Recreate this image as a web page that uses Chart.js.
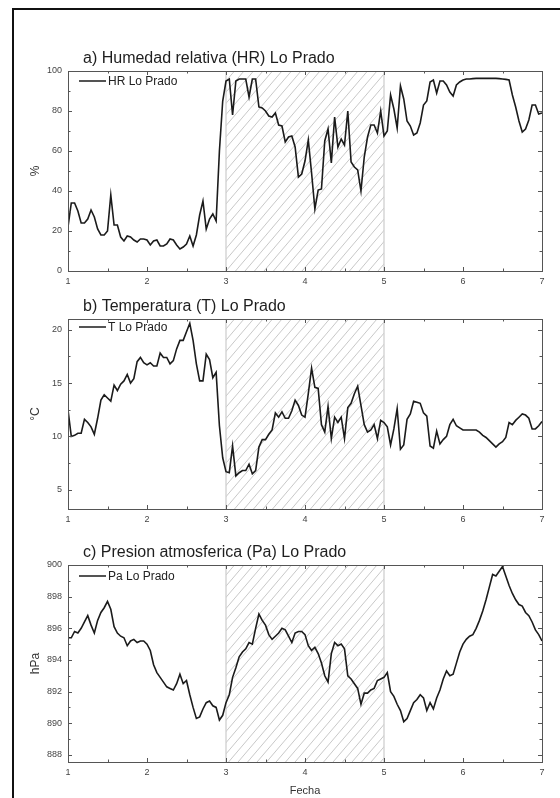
<!DOCTYPE html>
<html>
<head>
<meta charset="utf-8">
<script src="https://cdn.jsdelivr.net/npm/chart.js@4/dist/chart.umd.min.js"></script>
<style>
html,body{margin:0;padding:0;background:#fff;}
body{width:560px;height:798px;position:relative;overflow:hidden;font-family:"Liberation Sans",Arial,sans-serif;}
#frame{position:absolute;left:12px;top:8px;width:700px;height:900px;border-left:2px solid #111;border-top:2px solid #111;box-sizing:border-box;}
.pan{position:absolute;left:0;width:560px;}
canvas{display:block;}
</style>
</head>
<body>
<div id="frame"></div>
<div class="pan" style="top:0px"><canvas id="cHR" width="560" height="290"></canvas></div>
<div class="pan" style="top:290px"><canvas id="cT" width="560" height="250"></canvas></div>
<div class="pan" style="top:540px"><canvas id="cPa" width="560" height="258"></canvas></div>
<script>
// ---- data (hourly values, day 1 .. day 7) ----
const dayTicks = [1, 2, 3, 4, 5, 6, 7];
const eventStart = 3;
const eventEnd = 5;

const hrLoPrado = [
  22, 34, 34, 30, 24, 24, 26, 30.5, 27, 21, 18, 18, 20, 38, 23, 23, 17, 15, 17.5, 17, 15.5, 14.5, 16, 16,
  15.5, 13, 15, 15.5, 12.5, 12.5, 13.5, 16, 15.5, 13, 11, 12, 13.5, 17.5, 12.5, 18, 28, 35, 21, 26, 28.5, 25, 60, 85,
  95, 96, 78, 95, 96, 96, 96, 87, 96, 96, 82, 81.5, 80, 77.5, 77, 79, 73, 72.5, 64.5, 67, 67.5, 62, 47, 48.5,
  55, 65.5, 49, 31, 40.5, 41, 65, 71, 54, 77, 62, 66, 63, 80, 54.5, 52, 50.5, 40, 57, 67, 73, 73, 69, 80,
  67.5, 70, 88, 81, 71.5, 92.5, 86, 75, 72.5, 68, 69, 74, 83, 85, 94.5, 95.5, 89, 95, 95, 93, 89.5, 87.5, 93, 94.5,
  95.5, 96, 96, 96.2, 96.3, 96.3, 96.3, 96.3, 96.3, 96.3, 96.3, 96.2, 96, 95.8, 95.5, 88, 82, 75, 69.5, 71, 75.5, 83, 83, 78.5,
  79
];
const tLoPrado = [
  12.5, 10.0, 10.1, 10.3, 10.3, 11.6, 11.3, 10.9, 10.2, 11.7, 13.4, 13.9, 13.6, 13.3, 14.8, 14.3, 14.9, 15.2, 15.8, 15.0, 15.4, 17.0, 17.4, 16.9,
  16.7, 16.9, 16.6, 16.6, 17.8, 17.4, 17.4, 16.8, 17.1, 18.2, 19.0, 19.0, 19.8, 20.6, 19.0, 16.8, 15.2, 15.2, 17.7, 17.2, 15.5, 16.0, 11.0, 8.0,
  6.7, 6.6, 9.1, 6.3, 6.6, 6.8, 6.8, 7.4, 6.5, 6.8, 9.0, 9.7, 9.7, 10.2, 10.6, 12.2, 11.8, 12.3, 11.7, 11.7, 12.4, 13.4, 12.9, 12.0,
  11.8, 14.0, 16.4, 14.6, 14.5, 11.1, 10.4, 12.8, 9.8, 11.8, 11.3, 11.8, 9.8, 12.7, 13.1, 14.0, 14.7, 12.9, 11.1, 10.4, 10.6, 11.1, 9.8, 11.5,
  11.3, 10.9, 9.2, 10.7, 12.6, 8.8, 9.2, 11.6, 12.1, 13.3, 13.2, 13.1, 12.2, 11.9, 9.1, 8.9, 10.5, 9.3, 9.7, 10.0, 11.1, 11.6, 11.0, 10.8,
  10.6, 10.6, 10.6, 10.6, 10.6, 10.4, 10.1, 9.9, 9.6, 9.3, 9.0, 9.3, 9.5, 9.9, 11.3, 11.1, 11.5, 11.8, 12.1, 12.0, 11.7, 10.7, 10.7, 11.0,
  11.4
];
const paLoPrado = [
  895.4, 895.4, 895.8, 895.7, 896.0, 896.4, 896.8, 896.2, 895.7, 896.5, 897.0, 897.3, 897.7, 897.2, 896.1, 895.7, 895.5, 895.4, 894.9, 895.2, 895.3, 895.1, 895.2, 895.2,
  895.0, 894.6, 893.7, 893.2, 892.9, 892.6, 892.3, 892.2, 892.1, 892.5, 893.1, 892.5, 892.7, 891.8, 891.0, 890.3, 890.4, 890.9, 891.3, 891.4, 891.1, 891.0, 890.2, 890.5,
  891.3, 891.8, 892.9, 893.5, 894.2, 894.5, 894.7, 895.1, 895.0, 896.0, 896.9, 896.5, 896.2, 895.6, 895.3, 895.5, 895.7, 896.0, 895.9, 895.5, 895.1, 895.7, 895.8, 895.8,
  895.6, 894.9, 894.6, 894.8, 894.4, 893.8, 893.0, 892.6, 894.4, 895.1, 894.9, 895.0, 894.7, 893.0, 892.8, 892.5, 892.2, 891.2, 891.9, 891.9, 892.1, 892.2, 892.7, 892.8,
  892.9, 893.2, 892.0, 891.7, 891.2, 890.8, 890.1, 890.3, 890.8, 891.3, 891.5, 891.8, 891.6, 890.8, 891.3, 890.9, 891.6, 892.1, 892.8, 893.3, 893.0, 893.1, 893.8, 894.5,
  895.0, 895.3, 895.5, 895.6, 896.0, 896.5, 897.1, 897.8, 898.6, 899.4, 899.3, 899.6, 899.9, 899.3, 898.7, 898.2, 897.8, 897.5, 897.4, 897.0, 896.8, 896.4, 895.9, 895.6,
  895.2
];
const hrTicks = [0, 20, 40, 60, 80, 100];
const tTicks = [5, 10, 15, 20];
const paTicks = [888, 890, 892, 894, 896, 898, 900];

// time stamps: hourly, starting at day 1
const fecha = hrLoPrado.map((_, i) => 1 + i / 24);

const FONT = '"Liberation Sans", Arial, sans-serif';

// ---- plugins ----
const hatchPlugin = {
  id: 'hatch',
  beforeDatasetsDraw(chart) {
    const {ctx, chartArea: a, scales: {x}} = chart;
    const x0 = x.getPixelForValue(eventStart), x1 = x.getPixelForValue(eventEnd);
    const h = a.bottom - a.top;
    ctx.save();
    ctx.beginPath(); ctx.rect(x0, a.top, x1 - x0, h); ctx.clip();
    ctx.strokeStyle = '#c2c2c2'; ctx.lineWidth = 0.9;
    ctx.beginPath();
    const dx = h * 0.85;
    for (let s = x0 - dx - 20; s < x1 + 20; s += 9.5) {
      ctx.moveTo(s, a.bottom); ctx.lineTo(s + dx, a.top);
    }
    ctx.stroke();
    ctx.restore();
    ctx.save();
    ctx.strokeStyle = '#d0d0d0'; ctx.lineWidth = 1.3;
    ctx.beginPath();
    ctx.moveTo(x0, a.top); ctx.lineTo(x0, a.bottom);
    ctx.moveTo(x1, a.top); ctx.lineTo(x1, a.bottom);
    ctx.stroke();
    ctx.restore();
  }
};

const framePlugin = {
  id: 'frame',
  afterDatasetsDraw(chart, args, opts) {
    const {ctx, chartArea: a, scales: {x, y}} = chart;
    ctx.save();
    ctx.strokeStyle = '#555'; ctx.lineWidth = 1;
    ctx.strokeRect(Math.round(a.left) + 0.5, Math.round(a.top) + 0.5, Math.round(a.right - a.left), Math.round(a.bottom - a.top));
    ctx.beginPath();
    const xt = (v, len) => {
      const p = Math.round(x.getPixelForValue(v)) + 0.5;
      ctx.moveTo(p, a.bottom); ctx.lineTo(p, a.bottom - len);
      ctx.moveTo(p, a.top); ctx.lineTo(p, a.top + len);
    };
    const yt = (v, len) => {
      const p = Math.round(y.getPixelForValue(v)) + 0.5;
      ctx.moveTo(a.left, p); ctx.lineTo(a.left + len, p);
      ctx.moveTo(a.right, p); ctx.lineTo(a.right - len, p);
    };
    for (let i = 0; i < dayTicks.length; i++) {
      xt(dayTicks[i], 4);
      if (i < dayTicks.length - 1) xt((dayTicks[i] + dayTicks[i + 1]) / 2, 2.5);
    }
    const yv = opts.yMajor;
    for (let i = 0; i < yv.length; i++) {
      yt(yv[i], 4);
      const m = yv[i] + opts.yMinorStep;
      if (m < y.max) yt(m, 2.5);
      if (i === 0 && yv[0] - opts.yMinorStep > y.min) yt(yv[0] - opts.yMinorStep, 2.5);
    }
    ctx.stroke();
    // legend inside the plot
    const ds = chart.data.datasets[0];
    const ly = a.top + opts.legendDy;
    ctx.strokeStyle = '#1b1b1b'; ctx.lineWidth = 1.5;
    ctx.beginPath(); ctx.moveTo(a.left + 11, ly); ctx.lineTo(a.left + 38, ly); ctx.stroke();
    ctx.fillStyle = '#222';
    ctx.font = '12px ' + FONT;
    ctx.textBaseline = 'middle'; ctx.textAlign = 'left';
    ctx.fillText(ds.label, a.left + 40, ly + 0.5);
    // panel title
    ctx.font = '16px ' + FONT;
    ctx.textBaseline = 'alphabetic';
    ctx.fillStyle = '#1e1e1e';
    ctx.fillText(opts.title, a.left + 15, a.top - 8);
    ctx.restore();
  }
};

function makeChart(id, label, values, yMin, yMax, yTicks, yMinorStep, yTitle, panelTitle, padTop, xHeight, xTitle, legendDy) {
  const points = values.map((v, i) => ({x: fecha[i], y: v}));
  return new Chart(document.getElementById(id), {
    type: 'line',
    data: {datasets: [{label, data: points, borderColor: '#1b1b1b', borderWidth: 1.6, pointRadius: 0, tension: 0, fill: false}]},
    options: {
      responsive: false, animation: false, devicePixelRatio: 1,
      layout: {padding: {left: 28, right: 18, top: padTop, bottom: 0}},
      plugins: {
        legend: {display: false}, tooltip: {enabled: false},
        frame: {yMajor: yTicks, yMinorStep, title: panelTitle, legendDy}
      },
      scales: {
        x: {
          type: 'linear', min: 1, max: 7,
          afterBuildTicks: s => { s.ticks = dayTicks.map(v => ({value: v})); },
          grid: {display: false, drawTicks: false}, border: {display: false},
          ticks: {font: {size: 9, family: FONT}, color: '#444', padding: 5, maxRotation: 0, autoSkip: false},
          title: {display: !!xTitle, text: xTitle || '', font: {size: 11, family: FONT}, color: '#333', padding: {top: 0, bottom: 0}},
          afterFit: s => { s.height = xHeight; }
        },
        y: {
          type: 'linear', min: yMin, max: yMax,
          afterBuildTicks: s => { s.ticks = yTicks.map(v => ({value: v})); },
          grid: {display: false, drawTicks: false}, border: {display: false},
          ticks: {font: {size: 9, family: FONT}, color: '#444', padding: 6, autoSkip: false},
          title: {display: true, text: yTitle, font: {size: 12, family: FONT}, color: '#333', padding: {top: 0, bottom: 0}},
          afterFit: s => { s.width = 40; }
        }
      }
    },
    plugins: [hatchPlugin, framePlugin]
  });
}

makeChart('cHR', 'HR Lo Prado', hrLoPrado, 0, 100, hrTicks, 10, '%', 'a) Humedad relativa (HR) Lo Prado', 71, 19, null, 10);
makeChart('cT', 'T Lo Prado', tLoPrado, 3.2, 21, tTicks, 2.5, '°C', 'b) Temperatura (T) Lo Prado', 29, 31, null, 8);
makeChart('cPa', 'Pa Lo Prado', paLoPrado, 887.55, 900, paTicks, 1, 'hPa', 'c) Presion atmosferica (Pa) Lo Prado', 25, 36, 'Fecha', 11);
</script>
</body>
</html>
